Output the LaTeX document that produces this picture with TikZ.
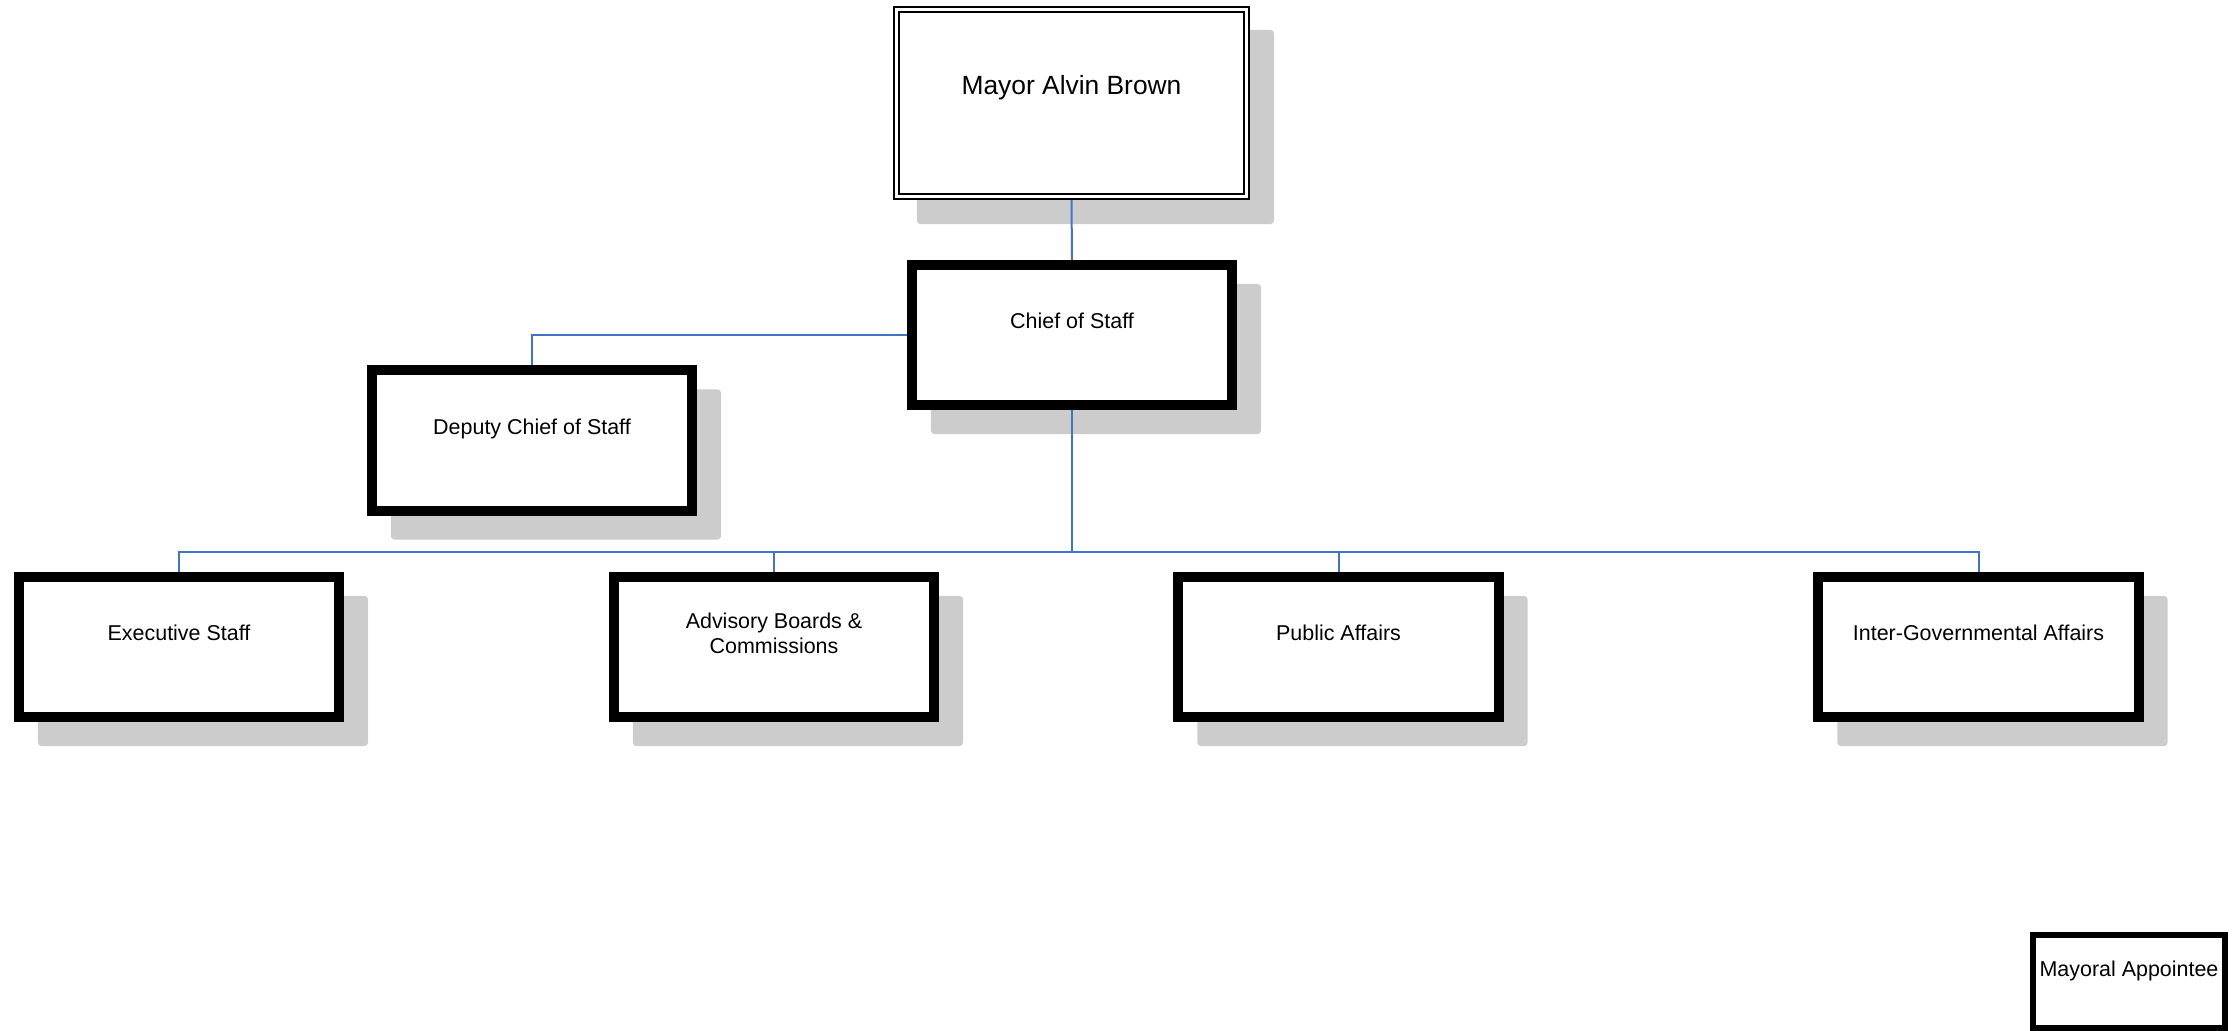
\documentclass[tikz,border=0pt]{standalone}
\usepackage{fontspec}
\setmainfont{Liberation Sans}
\usetikzlibrary{backgrounds}
\definecolor{linkblue}{RGB}{68,114,196}

\begin{document}
\begin{tikzpicture}[
  x=0.01cm, y=-0.01cm,
  every node/.style={align=center, inner sep=0pt, font=\fontsize{6.1}{7}\selectfont},
  unit/.style={draw=black, fill=white, line width=0.1cm, minimum width=3.2cm, minimum height=1.4cm},
  head/.style={draw=black, fill=white, line width=0.02cm, double=white, double distance=0.03cm,
    outer sep=0.035cm, minimum width=3.5cm, minimum height=1.87cm, font=\fontsize{7.5}{9}\selectfont},
  link/.style={draw=linkblue, line width=0.02cm},
  shade/.style={fill=gray!40, rounded corners=1pt}
]
\useasboundingbox (0,0) rectangle (2236,1031);

% boxes:
\node[head] (mayor) at (1071.5,103) {Mayor Alvin Brown\\[1pt]\mbox{}};
\node[unit] (chief) at (1072,335) {Chief of Staff\\[1pt]\mbox{}};
\node[unit] (deputy) at (532,440.5) {Deputy Chief of Staff\\[1pt]\mbox{}};
\node[unit] (exec) at (179,647) {Executive Staff\\[1pt]\mbox{}};
\node[unit] (advisory) at (774,647) {Advisory Boards \&\\Commissions\\[1pt]\mbox{}};
\node[unit] (public) at (1338.5,647) {Public Affairs\\[1pt]\mbox{}};
\node[unit] (intergov) at (1978.5,647) {Inter-Governmental Affairs\\[1pt]\mbox{}};
\node[unit, line width=0.06cm, minimum width=1.92cm, minimum height=0.93cm] (appointee) at (2129,981.5) {Mayoral Appointee\\\mbox{}};

% shadows behind the boxes:
\begin{pgfonlayer}{background}
\foreach \n in {mayor,chief,deputy,exec,advisory,public,intergov}
  \fill[shade] ([shift={(24,24)}]\n.north west) rectangle ([shift={(24,24)}]\n.south east);
\end{pgfonlayer}

% connectors:
\coordinate (bus) at (1072,552);
\draw[link] (mayor.south) -- (chief.north);
\draw[link] (chief.west) -| (deputy.north);
\draw[link] (chief.south) -- (bus);
\foreach \n in {exec,advisory,public,intergov}
  \draw[link] (bus) -| (\n.north);
\end{tikzpicture}
\end{document}
